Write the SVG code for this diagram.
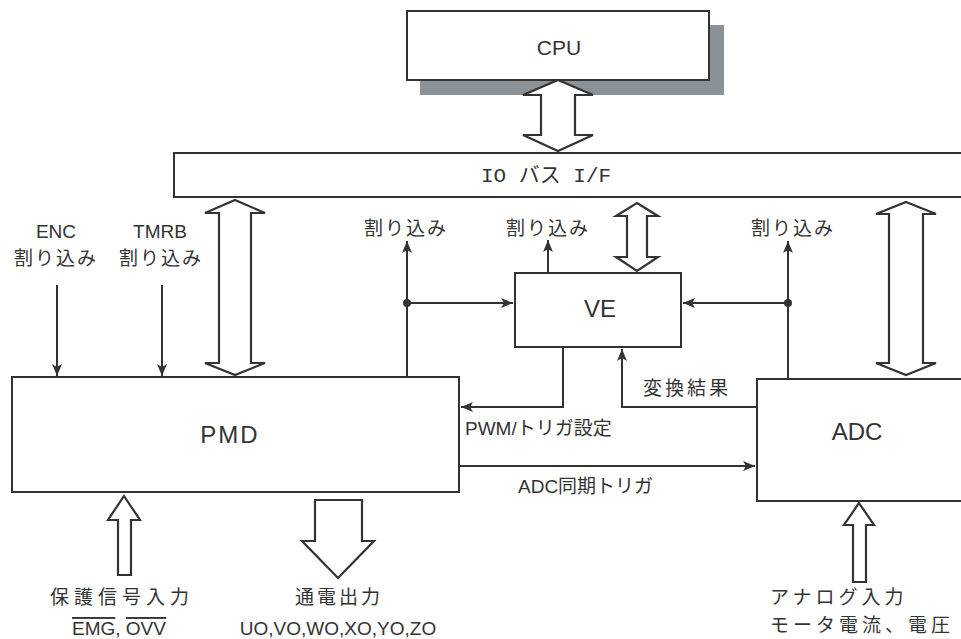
<svg xmlns="http://www.w3.org/2000/svg" width="961" height="639" viewBox="0 0 961 639">
<style>
.box{fill:#fff;stroke:#333;stroke-width:2}
.hollow{fill:#fff;stroke:#333;stroke-width:2.2;stroke-linejoin:miter}
.ln{fill:none;stroke:#333;stroke-width:2}
.t{font-family:"Liberation Sans","Noto Sans CJK JP",sans-serif;fill:#333;font-size:19px}
.big{font-size:24px}
.mid{text-anchor:middle}
</style>
<defs>
<marker id="ah" viewBox="0 0 12 10" refX="12" refY="5" markerWidth="12" markerHeight="10" orient="auto" markerUnits="userSpaceOnUse">
<path d="M0,0 L12,5 L0,10 L3,5 z" fill="#333"/>
</marker>
</defs>
<rect width="961" height="639" fill="#fff"/>

<g id="cpu">
<rect x="420" y="25" width="304" height="70" fill="#8a9197"/>
<rect class="box" x="407" y="11" width="302" height="69"/>
<text class="t mid" x="559" y="55" style="font-size:21px">CPU</text>
</g>

<g id="iobus">
<rect class="box" x="174" y="153" width="800" height="44"/>
<text class="t mid" x="546" y="182" style="font-family:'Liberation Mono','Noto Sans CJK JP',monospace;font-size:21px">IO バス I/F</text>
</g>

<g id="pmd">
<rect class="box" x="12" y="377" width="447" height="115"/>
<text class="t big mid" x="230" y="443" letter-spacing="2">PMD</text>
</g>

<g id="ve">
<rect class="box" x="515" y="273" width="166" height="74"/>
<text class="t big mid" x="600" y="317">VE</text>
</g>

<g id="adc">
<rect class="box" x="757" y="379" width="220" height="122"/>
<text class="t big mid" x="857" y="440">ADC</text>
</g>

<g id="connectors">
<polygon class="hollow" points="558,80 593,95 575,95 575,135 593,135 558,151 523,135 541,135 541,95 523,95"/>
<polygon class="hollow" points="235,200 265,213 251,213 251,363 265,363 235,375 205,363 219,363 219,213 205,213"/>
<polygon class="hollow" points="637,203 658,216 647,216 647,257 658,257 637,271 616,257 627,257 627,216 616,216"/>
<polygon class="hollow" points="906,202 936,214 923,214 923,363 936,363 906,375 876,363 889,363 889,214 876,214"/>
<polygon class="hollow" points="124,496 140,520 131,520 131,575 118,575 118,520 108,520"/>
<polygon class="hollow" points="315,500 362,500 362,541 374,541 338,578 302,541 315,541"/>
<polygon class="hollow" points="859,503 874,525 866,525 866,582 853,582 853,525 844,525"/>

<line class="ln" x1="57" y1="285" x2="57" y2="376" marker-end="url(#ah)"/>
<line class="ln" x1="162" y1="285" x2="162" y2="376" marker-end="url(#ah)"/>
<line class="ln" x1="407" y1="377" x2="407" y2="241" marker-end="url(#ah)"/>
<line class="ln" x1="407" y1="303" x2="513" y2="303" marker-end="url(#ah)"/>
<circle cx="407" cy="303" r="4" fill="#333"/>
<line class="ln" x1="548" y1="273" x2="548" y2="240" marker-end="url(#ah)"/>
<line class="ln" x1="788" y1="379" x2="788" y2="241" marker-end="url(#ah)"/>
<line class="ln" x1="788" y1="303" x2="683" y2="303" marker-end="url(#ah)"/>
<circle cx="788" cy="303" r="4" fill="#333"/>
<polyline class="ln" points="563,347 563,407 461,407" marker-end="url(#ah)"/>
<polyline class="ln" points="757,407 622,407 622,349" marker-end="url(#ah)"/>
<line class="ln" x1="459" y1="466" x2="755" y2="466" marker-end="url(#ah)"/>
</g>

<g id="labels">
<text class="t mid" x="56" y="238">ENC</text>
<text class="t mid" x="56" y="265" letter-spacing="2">割り込み</text>
<text class="t mid" x="160" y="238">TMRB</text>
<text class="t mid" x="161" y="265" letter-spacing="2">割り込み</text>
<text class="t mid" x="406" y="235" letter-spacing="2">割り込み</text>
<text class="t mid" x="548" y="235" letter-spacing="2">割り込み</text>
<text class="t mid" x="793" y="235" letter-spacing="2">割り込み</text>
<text class="t" x="465" y="435">PWM/トリガ設定</text>
<text class="t" x="643" y="395" letter-spacing="3">変換結果</text>
<text class="t" x="518" y="493">ADC同期トリガ</text>
<text class="t" x="50" y="604" letter-spacing="5">保護信号入力</text>
<text class="t" x="72" y="635"><tspan style="text-decoration:overline">EMG</tspan>, <tspan style="text-decoration:overline">OVV</tspan></text>
<text class="t" x="295" y="604" letter-spacing="3">通電出力</text>
<text class="t mid" x="338" y="635">UO,VO,WO,XO,YO,ZO</text>
<text class="t" x="770" y="604" letter-spacing="4">アナログ入力</text>
<text class="t" x="770" y="632" letter-spacing="4">モータ電流、電圧</text>
</g>
</svg>
